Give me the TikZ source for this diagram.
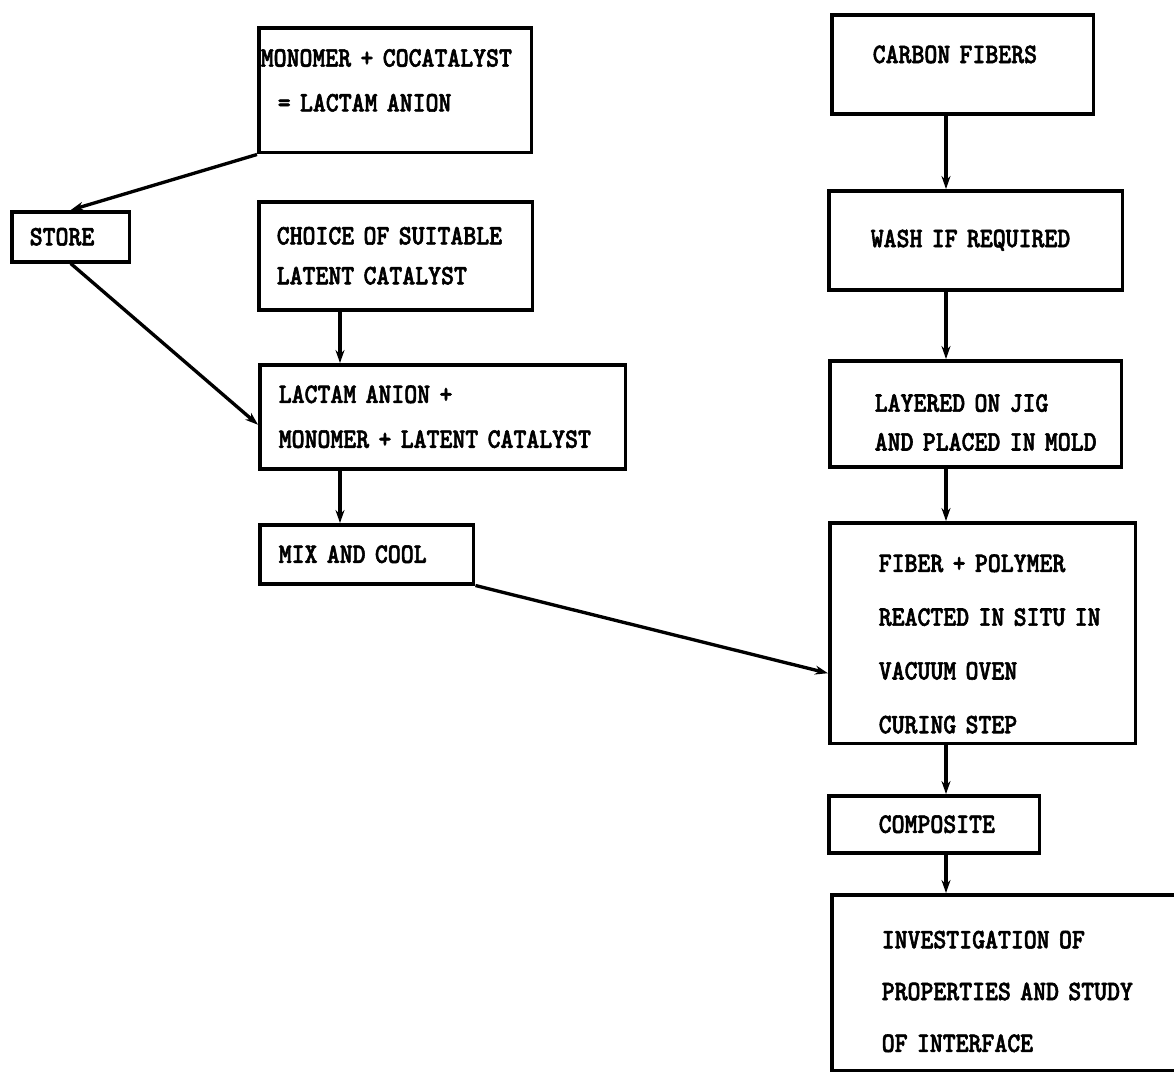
\documentclass[tikz,border=0pt]{standalone}
\usepackage{fontspec}
\usetikzlibrary{arrows.meta}
\newfontfamily\typefont{lmmonolt10-bold.otf}[FakeBold=2, FakeStretch=0.875]
\newcommand\flowfont[1]{\fontsize{16pt}{#1}\typefont}

\begin{document}
\begin{tikzpicture}[x=0.02cm, y=-0.02cm,
    box/.style={draw, line width=2pt, rectangle, anchor=north west, align=left},
    conn/.style={line width=1.9pt, -{Stealth[length=2.6mm,width=1.8mm]}}]
    \useasboundingbox (0,0) rectangle (1174,1073);
    % left column
    \node[box, minimum width=5.46cm, minimum height=2.5cm, inner xsep=0.04cm, text width=5.38cm, font=\flowfont{25.5pt}] (mono) at (257,26) {MONOMER~+~COCATALYST\\\hspace*{0.34cm}=~LACTAM~ANION\rule[-0.4cm]{0pt}{0.4cm}};
    \node[box, minimum width=2.36cm, minimum height=1cm, inner xsep=0.36cm, text width=1.64cm, font=\flowfont{18pt}] (store) at (10,210) {STORE};
    \node[box, minimum width=5.48cm, minimum height=2.16cm, inner xsep=0.36cm, text width=4.76cm, font=\flowfont{22.7pt}] (choice) at (257,200) {CHOICE~OF~SUITABLE\\LATENT~CATALYST};
    \node[box, minimum width=7.32cm, minimum height=2.08cm, inner xsep=0.38cm, text width=6.56cm, font=\flowfont{25.5pt}] (lactam) at (258,363) {LACTAM~ANION~+\\MONOMER~+~LATENT~CATALYST};
    \node[box, minimum width=4.28cm, minimum height=1.18cm, inner xsep=0.38cm, text width=3.52cm, font=\flowfont{18pt}] (mix) at (258,523) {MIX~AND~COOL};
    % right column
    \node[box, minimum width=5.24cm, minimum height=1.98cm, inner xsep=0.82cm, text width=3.6cm, font=\flowfont{18pt}] (carbon) at (830,13) {CARBON~FIBERS\rule[-0.4cm]{0pt}{0.4cm}};
    \node[box, minimum width=5.88cm, minimum height=1.98cm, inner xsep=0.84cm, text width=4.2cm, font=\flowfont{18pt}] (wash) at (827,189) {WASH~IF~REQUIRED};
    \node[box, minimum width=5.84cm, minimum height=2.12cm, inner xsep=0.9cm, text width=4.04cm, font=\flowfont{22.1pt}] (layered) at (828,359) {\rule{0pt}{0.7cm}LAYERED~ON~JIG\\AND~PLACED~IN~MOLD};
    \node[box, minimum width=6.12cm, minimum height=4.42cm, inner xsep=0.98cm, text width=4.16cm, font=\flowfont{30.6pt}] (fiber) at (828,521) {\rule{0pt}{0.78cm}FIBER~+~POLYMER\\REACTED~IN~SITU~IN\\VACUUM~OVEN\\CURING~STEP};
    \node[box, minimum width=4.22cm, minimum height=1.14cm, inner xsep=1cm, text width=2.22cm, font=\flowfont{18pt}] (composite) at (827,794) {COMPOSITE};
    \node[box, minimum width=7.2cm, minimum height=3.52cm, inner xsep=1cm, text width=5.2cm, font=\flowfont{29.5pt}] (invest) at (830,893) {\rule{0pt}{0.7cm}INVESTIGATION~OF\\PROPERTIES~AND~STUDY\\OF~INTERFACE};
    % connectors
    \coordinate (lcol) at (340,0);
    \coordinate (rcol) at (946,0);
    \draw[conn] (mono.south west) -- (store.north);
    \draw[conn] (store.south) -- ([yshift=-0.16cm]lactam.west);
    \draw[conn] (choice.south -| lcol) -- (lactam.north -| lcol);
    \draw[conn] (lactam.south -| lcol) -- (mix.north -| lcol);
    \draw[conn] (mix.south east) -- ([yshift=-0.8cm]fiber.west);
    \draw[conn] (carbon.south -| rcol) -- (wash.north -| rcol);
    \draw[conn] (wash.south -| rcol) -- (layered.north -| rcol);
    \draw[conn] (layered.south -| rcol) -- (fiber.north -| rcol);
    \draw[conn] (fiber.south -| rcol) -- (composite.north -| rcol);
    \draw[conn] (composite.south -| rcol) -- (invest.north -| rcol);
\end{tikzpicture}
\end{document}
